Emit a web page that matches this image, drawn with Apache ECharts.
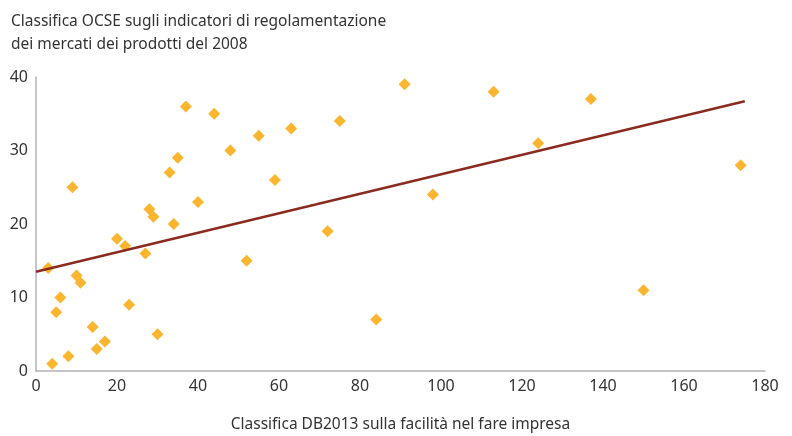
<!DOCTYPE html>
<html>
<head>
<meta charset="utf-8">
<script src="https://cdn.jsdelivr.net/npm/echarts@6/dist/echarts.min.js"></script>
<style>html,body{margin:0;padding:0;background:#fff}#c{width:792px;height:436px}</style>
</head>
<body>
<div id="c"></div>
<script>
const titleLines = ["Classifica OCSE sugli indicatori di regolamentazione", "dei mercati dei prodotti del 2008"];
const xAxisName = "Classifica DB2013 sulla facilità nel fare impresa";
const dbRank = [3,4,5,6,8,9,10,11,14,15,17,20,22,23,27,28,29,30,33,34,35,37,40,44,48,52,55,59,63,72,75,84,91,98,113,124,137,150,174];
const ocseRank = [14,1,8,10,2,25,13,12,6,3,4,18,17,9,16,22,21,5,27,20,29,36,23,35,30,15,32,26,33,19,34,7,39,24,38,31,37,11,28];
const trendX = [0, 175];
const trendY = [13.5, 36.7];
const xTicks = [0,20,40,60,80,100,120,140,160,180];
const yTicks = [0,10,20,30,40];

const font = "'Noto Sans', sans-serif";
const chart = echarts.init(document.getElementById('c'), null, {renderer:'canvas'});
chart.setOption({
  animation: false,
  backgroundColor: '#fff',
  title: {
    text: titleLines.join('\n'),
    left: 6, top: 5,
    textStyle: {fontFamily: font, fontSize: 15.5, fontWeight: 'normal', color: '#333', lineHeight: 23}
  },
  grid: {left: 36, right: 27, top: 77, bottom: 65, containLabel: false, outerBoundsMode: 'none'},
  xAxis: {
    type: 'value', min: xTicks[0], max: xTicks[xTicks.length-1], interval: 20,
    name: xAxisName, nameLocation: 'middle', nameGap: 46,
    nameTextStyle: {fontFamily: font, fontSize: 15.5, color: '#333'},
    axisLine: {show: true, lineStyle: {color: '#b3b3b3', width: 1.5}},
    axisTick: {show: false},
    splitLine: {show: false},
    axisLabel: {fontFamily: font, fontSize: 16, color: '#333', margin: 7}
  },
  yAxis: {
    type: 'value', min: yTicks[0], max: yTicks[yTicks.length-1], interval: 10,
    axisLine: {show: true, lineStyle: {color: '#b3b3b3', width: 1.5}},
    axisTick: {show: false},
    splitLine: {show: false},
    axisLabel: {fontFamily: font, fontSize: 16, color: '#333', margin: 8}
  },
  series: [
    {
      type: 'scatter',
      data: dbRank.map((x,i)=>[x, ocseRank[i]]),
      symbol: 'diamond', symbolSize: 12,
      itemStyle: {color: '#fbb52e', opacity: 1},
      z: 2
    },
    {
      type: 'line',
      data: trendX.map((x,i)=>[x, trendY[i]]),
      symbol: 'none',
      lineStyle: {color: '#8b2b1f', width: 2.5},
      z: 3
    }
  ]
});
</script>
</body>
</html>
